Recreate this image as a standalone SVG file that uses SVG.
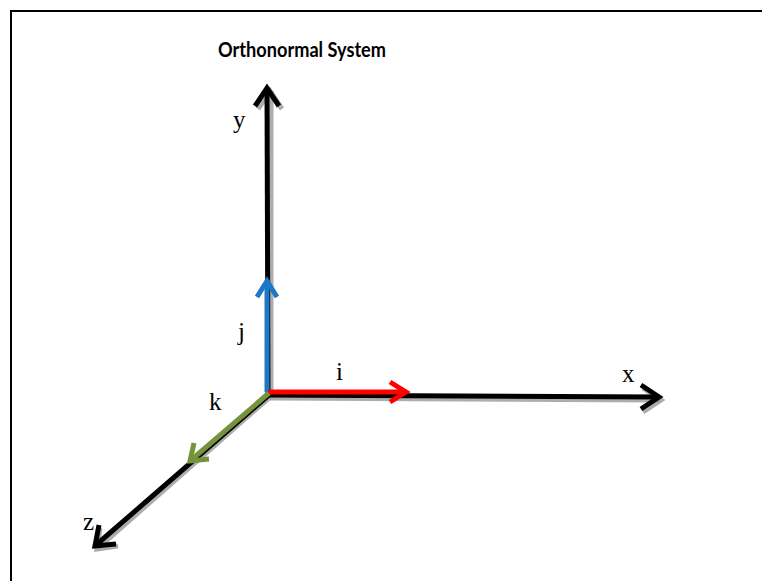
<svg xmlns="http://www.w3.org/2000/svg" width="762" height="581" viewBox="0 0 762 581">
<defs>
<style>
.lbl{font-family:"Liberation Serif","Times New Roman",serif;font-size:25px;fill:#000}
.ttl{font-family:Lato,"Open Sans","Liberation Sans",sans-serif;font-weight:bold;font-size:20px;fill:#000}
.ax{stroke:#000;stroke-width:5;fill:none;stroke-linecap:butt}
.sh{stroke:#999;stroke-width:5;fill:none;opacity:0.8}
.hd{fill:none;stroke-width:5;stroke-linejoin:miter;stroke-linecap:butt}
</style>
</defs>
<rect x="0" y="0" width="762" height="581" fill="#fff"/>
<rect x="11" y="11" width="800" height="620" fill="none" stroke="#000" stroke-width="2"/>
<text class="ttl" x="302" y="57" text-anchor="middle" textLength="168" lengthAdjust="spacingAndGlyphs">Orthonormal System</text>
<g id="connectors">
  <g transform="translate(2,3)" class="shadows">
    <line class="sh" x1="269" y1="393" x2="269" y2="88"/>
    <polyline class="sh" points="256,106 268,88 280,106"/>
    <line class="sh" x1="268" y1="395" x2="658" y2="397"/>
    <polyline class="sh" points="641,385 659,397 641,409"/>
    <line class="sh" x1="268" y1="394" x2="96" y2="545"/>
    <polyline class="sh" points="98,525 95,546 116,543"/>
  </g>
  <g id="axis-y"><line class="ax" x1="268" y1="395" x2="267" y2="88"/><polyline class="hd" stroke="#000" points="255,106 267,88 279,106"/></g>
  <g id="axis-x"><line class="ax" x1="266" y1="395" x2="658" y2="397"/><polyline class="hd" stroke="#000" points="641,385 659,397 641,409"/></g>
  <g id="axis-z"><line class="ax" x1="270" y1="394" x2="96" y2="545"/><polyline class="hd" stroke="#000" points="99,525 95,546 116,544"/></g>
  <g id="vec-j"><line stroke="#1f77c8" stroke-width="5" x1="267" y1="392" x2="267" y2="281"/><polyline class="hd" stroke="#1f77c8" points="257,297 267,281 277,297"/></g>
  <g id="vec-i"><line stroke="#ff0000" stroke-width="5" x1="268" y1="392" x2="406" y2="392"/><polyline class="hd" stroke="#ff0000" points="390,382 406,392 390,402"/></g>
  <g id="vec-k"><line stroke="#76923c" stroke-width="5" x1="269" y1="393" x2="190" y2="461"/><polyline class="hd" stroke="#76923c" points="194,443 190,461 209,459"/></g>
</g>
<g id="labels">
  <text class="lbl" x="233" y="128">y</text>
  <text class="lbl" x="238" y="340">j</text>
  <text class="lbl" x="336" y="380">i</text>
  <text class="lbl" x="622" y="382">x</text>
  <text class="lbl" x="209" y="410">k</text>
  <text class="lbl" x="83" y="530">z</text>
</g>
</svg>
